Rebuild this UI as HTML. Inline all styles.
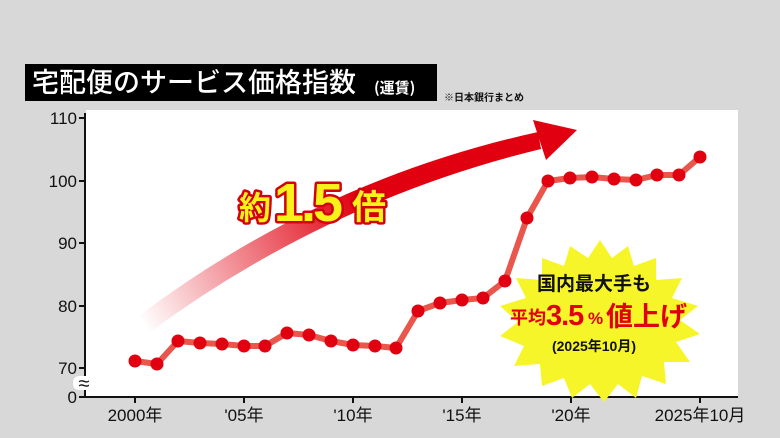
<!DOCTYPE html>
<html><head><meta charset="utf-8"><style>
html,body{margin:0;padding:0;background:#d8d8d8;}
body{width:780px;height:438px;overflow:hidden;position:relative;font-family:"Liberation Sans","Noto Sans CJK JP",sans-serif;}
</style></head><body>
<svg width="780" height="438" viewBox="0 0 780 438" style="position:absolute;left:0;top:0">
<defs>
<linearGradient id="ag" x1="140" y1="320" x2="360" y2="200" gradientUnits="userSpaceOnUse">
<stop offset="0" stop-color="#e0000f" stop-opacity="0"/>
<stop offset="1" stop-color="#e0000f" stop-opacity="1"/>
</linearGradient>
</defs>
<rect x="0" y="0" width="780" height="438" fill="#d8d8d8"/>
<rect x="86" y="110" width="652" height="287" fill="#ffffff"/>
<!-- title -->
<rect x="25" y="64" width="412" height="37" fill="#000"/>
<text x="32" y="92" font-size="27" fill="#fff" font-family="'Noto Sans CJK JP',sans-serif" font-weight="500">宅配便のサービス価格指数</text>
<text x="374" y="93" font-size="15" fill="#fff" font-family="'Noto Sans CJK JP',sans-serif" font-weight="700">(運賃)</text>
<text x="444" y="101" font-size="10" fill="#111" font-family="'Noto Sans CJK JP',sans-serif" font-weight="700">※日本銀行まとめ</text>
<!-- axes -->
<line x1="85" y1="113" x2="85" y2="397" stroke="#111" stroke-width="2"/>
<line x1="85" y1="397" x2="738" y2="397" stroke="#111" stroke-width="2"/>
<g stroke="#111" stroke-width="2">
<line x1="79" y1="118" x2="85" y2="118"/><line x1="79" y1="181" x2="85" y2="181"/>
<line x1="79" y1="243" x2="85" y2="243"/><line x1="79" y1="306" x2="85" y2="306"/>
<line x1="79" y1="368" x2="85" y2="368"/><line x1="79" y1="397" x2="85" y2="397"/>
<line x1="135" y1="397" x2="135" y2="403"/><line x1="244" y1="397" x2="244" y2="403"/>
<line x1="353" y1="397" x2="353" y2="403"/><line x1="462" y1="397" x2="462" y2="403"/>
<line x1="571" y1="397" x2="571" y2="403"/><line x1="700" y1="397" x2="700" y2="403"/>
</g>
<g font-size="17" fill="#111" text-anchor="end" font-family="'Liberation Sans',sans-serif">
<text x="77" y="124">110</text><text x="77" y="187">100</text><text x="77" y="249">90</text>
<text x="77" y="312">80</text><text x="77" y="374">70</text><text x="77" y="403">0</text>
</g>
<rect x="73" y="376" width="22" height="14" fill="#fff" rx="6"/>
<text x="84" y="390" font-size="20" fill="#111" text-anchor="middle">≈</text>
<g font-size="17" fill="#111" text-anchor="middle" font-family="'Liberation Sans','Noto Sans CJK JP',sans-serif">
<text x="135" y="421">2000年</text><text x="244" y="421">'05年</text><text x="353" y="421">'10年</text>
<text x="462" y="421">'15年</text><text x="571" y="421">'20年</text><text x="700" y="421">2025年10月</text>
</g>
<!-- arrow -->
<path d="M140 315 Q320 180 538 132 L541 149 Q330 200 150 332 Z" fill="url(#ag)"/>
<path d="M533 120 L577 130 L546 160 Z" fill="#e0000f"/>
<g font-family="'Liberation Sans','Noto Sans CJK JP',sans-serif" font-weight="700" fill="#f6f21a" stroke="#d4000d" stroke-width="5" paint-order="stroke" stroke-linejoin="round">
<text x="239" y="219" font-size="32">約</text>
<text x="274" y="221" font-size="54" letter-spacing="-3">1.5</text>
<text x="352" y="219" font-size="34">倍</text>
</g>
<!-- starburst -->
<polygon fill="#f6f52a" points="600,240 612,258 628,246 634,266 656,258 656,280 682,278 672,298 698,306 680,320 700,334 676,342 690,362 664,362 666,384 642,376 636,398 618,384 604,402 590,384 572,398 564,378 542,386 540,364 514,366 524,346 500,336 518,322 500,306 526,298 516,278 542,280 542,258 564,266 570,246 588,258"/>
<text x="594" y="290" font-size="19" font-weight="700" text-anchor="middle" fill="#111" font-family="'Noto Sans CJK JP',sans-serif">国内最大手も</text>
<g font-weight="700" fill="#e0000f" font-family="'Liberation Sans','Noto Sans CJK JP',sans-serif">
<text x="510" y="324" font-size="18">平均</text>
<text x="546" y="325" font-size="29" letter-spacing="-1">3.5</text>
<text x="588" y="324" font-size="17">%</text>
<text x="606" y="326" font-size="27">値上げ</text>
</g>
<text x="594" y="351" font-size="14" font-weight="700" text-anchor="middle" fill="#111" font-family="'Liberation Sans','Noto Sans CJK JP',sans-serif">(2025年10月)</text>
<!-- series -->
<polyline fill="none" stroke="#e8564c" stroke-width="6" stroke-linejoin="round" points="135,361 157,364 178,341 200,343 222,344 244,346 265,346 287,333 309,335 331,341 353,345 375,346 396,348 418,311 440,303 462,300 483,298 505,281 527,218 548,181 570,178 592,177 614,179 636,180 657,175 679,175 700,157"/>
<g fill="#e0000f">
<circle cx="135" cy="361" r="6.5"/><circle cx="157" cy="364" r="6.5"/><circle cx="178" cy="341" r="6.5"/>
<circle cx="200" cy="343" r="6.5"/><circle cx="222" cy="344" r="6.5"/><circle cx="244" cy="346" r="6.5"/>
<circle cx="265" cy="346" r="6.5"/><circle cx="287" cy="333" r="6.5"/><circle cx="309" cy="335" r="6.5"/>
<circle cx="331" cy="341" r="6.5"/><circle cx="353" cy="345" r="6.5"/><circle cx="375" cy="346" r="6.5"/>
<circle cx="396" cy="348" r="6.5"/><circle cx="418" cy="311" r="6.5"/><circle cx="440" cy="303" r="6.5"/>
<circle cx="462" cy="300" r="6.5"/><circle cx="483" cy="298" r="6.5"/><circle cx="505" cy="281" r="6.5"/>
<circle cx="527" cy="218" r="6.5"/><circle cx="548" cy="181" r="6.5"/><circle cx="570" cy="178" r="6.5"/>
<circle cx="592" cy="177" r="6.5"/><circle cx="614" cy="179" r="6.5"/><circle cx="636" cy="180" r="6.5"/>
<circle cx="657" cy="175" r="6.5"/><circle cx="679" cy="175" r="6.5"/><circle cx="700" cy="157" r="6.5"/>
</g>
</svg>
</body></html>
